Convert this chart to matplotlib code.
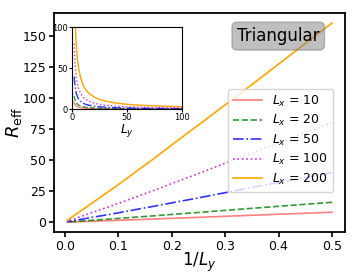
import matplotlib
matplotlib.use("Agg")
import matplotlib.pyplot as plt
import numpy as np

# Ly values and effective resistance
Ly = [2, 3, 4, 5, 6, 8, 10, 12, 15, 20, 25, 30, 40, 50, 60, 80, 100, 150, 200]

R_10 = [8, 5.3, 3.9, 3.1, 2.55, 1.9, 1.5, 1.25, 1.0, 0.75, 0.6, 0.5, 0.38, 0.3, 0.25, 0.19, 0.15, 0.1, 0.08]
R_20 = [16, 10.6, 7.8, 6.2, 5.1, 3.8, 3.0, 2.5, 2.0, 1.5, 1.2, 1.0, 0.75, 0.6, 0.5, 0.38, 0.3, 0.2, 0.15]
R_50 = [40, 26.5, 19.5, 15.5, 12.8, 9.5, 7.5, 6.2, 5.0, 3.8, 3.0, 2.5, 1.9, 1.5, 1.25, 0.95, 0.75, 0.5, 0.38]
R_100 = [80, 53, 39, 31, 25.5, 19, 15, 12.5, 10, 7.5, 6.0, 5.0, 3.8, 3.0, 2.5, 1.9, 1.5, 1.0, 0.75]
R_200 = [160, 105, 78, 62, 51, 38, 30, 25, 20, 15, 12, 10, 7.5, 6.0, 5.0, 3.8, 3.0, 2.0, 1.5]

labels = ["$L_x$ = 10", "$L_x$ = 20", "$L_x$ = 50", "$L_x$ = 100", "$L_x$ = 200"]
series = [R_10, R_20, R_50, R_100, R_200]
styles = [("red", "-", 0.5), ("green", "--", 0.8), ("blue", "-.", 0.8),
          ("m", ":", 0.8), ("orange", "-", 1.0)]

inv_Ly = 1 / np.array(Ly)

fig = plt.figure(figsize=(3.63, 2.73), dpi=100)
ax = fig.add_axes([0.149, 0.15, 0.802, 0.802])

for R, lab, (c, ls, a) in zip(series, labels, styles):
    ax.plot(inv_Ly, R, color=c, linestyle=ls, alpha=a, lw=1.2, label=lab)

ax.set_xticks([0.0, 0.1, 0.2, 0.3, 0.4, 0.5])
ax.set_yticks([0, 25, 50, 75, 100, 125, 150])
ax.tick_params(labelsize=9, width=1.2, length=3.5, pad=2)
for s in ax.spines.values():
    s.set_linewidth(1.3)
ax.set_xlabel("$1/L_y$", fontsize=12, labelpad=-1)
ax.set_ylabel("$R_{\\rm eff}$", fontsize=13, labelpad=-1)

ax.legend(fontsize=9, loc="lower right", bbox_to_anchor=(0.98, 0.155),
          handlelength=2.3, labelspacing=0.35, borderpad=0.4)

ax.text(0.77, 0.895, "Triangular", transform=ax.transAxes, fontsize=12,
        ha="center", va="center",
        bbox=dict(boxstyle="round", facecolor="gray", alpha=0.5, edgecolor="gray"))

# inset: R_eff against Ly
ins = fig.add_axes([0.198, 0.60, 0.303, 0.30])
for R, (c, ls, a) in zip(series, styles):
    ins.plot(Ly, R, color=c, linestyle=ls, alpha=a, lw=1.0)
ins.set_xlim(0, 100)
ins.set_ylim(0, 100)
ins.set_xticks([0, 50, 100])
ins.set_yticks([0, 50, 100])
ins.tick_params(labelsize=6, length=2, pad=1)
ins.set_xlabel("$L_y$", fontsize=9, labelpad=0)

plt.savefig("out.png", dpi=100)
